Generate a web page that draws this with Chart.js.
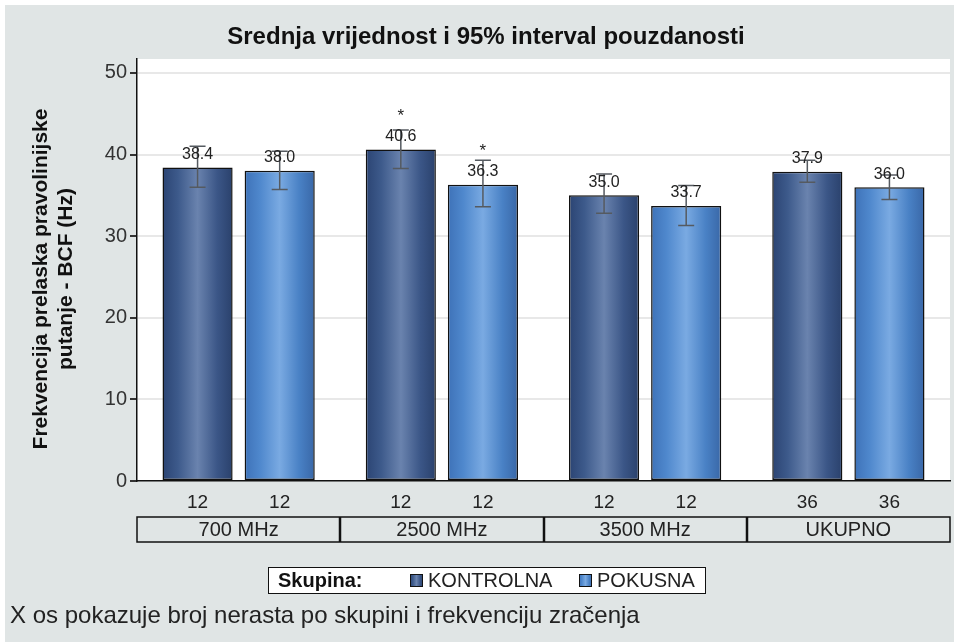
<!DOCTYPE html>
<html lang="hr">
<head>
<meta charset="UTF-8">
<title>Srednja vrijednost i 95% interval pouzdanosti</title>
<script src="https://cdn.jsdelivr.net/npm/chart.js"></script>
<style>
    body { margin: 0; background: #ffffff; }
    #wrap { width: 954px; height: 642px; }
</style>
</head>
<body>
<div id="wrap"><canvas id="bcfChart" width="954" height="642"></canvas></div>
<script>
    // data
    const groups = ['700 MHz', '2500 MHz', '3500 MHz', 'UKUPNO'];
    const seriesNames = ['KONTROLNA', 'POKUSNA'];
    const kontrolna = [38.4, 40.6, 35.0, 37.9];
    const pokusna = [38.0, 36.3, 33.7, 36.0];
    const kontrolnaLow = [36.0, 38.3, 32.8, 36.6];
    const kontrolnaHigh = [41.0, 43.0, 37.6, 39.3];
    const pokusnaLow = [35.7, 33.6, 31.3, 34.5];
    const pokusnaHigh = [40.4, 39.3, 36.2, 37.5];
    const kontrolnaN = [12, 12, 12, 36];
    const pokusnaN = [12, 12, 12, 36];
    const kontrolnaSig = [false, true, false, false];
    const pokusnaSig = [false, true, false, false];
    const yTicks = [0, 10, 20, 30, 40, 50];

    const FONT = '"Liberation Sans", Arial, Helvetica, sans-serif';
    const BG = '#e0e5e5';

    const lows = [kontrolnaLow, pokusnaLow];
    const highs = [kontrolnaHigh, pokusnaHigh];
    const counts = [kontrolnaN, pokusnaN];
    const sigs = [kontrolnaSig, pokusnaSig];

    const stops = [
        ['#2b4473', '#3d5a8b', '#6a83ae', '#3b5687', '#2a416c'],
        ['#3e72b8', '#4f88cd', '#7aaae2', '#4981c5', '#3967a7']
    ];

    function barGradient(ctx, x0, x1, colors) {
        const g = ctx.createLinearGradient(x0, 0, x1, 0);
        g.addColorStop(0, colors[0]);
        g.addColorStop(0.22, colors[1]);
        g.addColorStop(0.5, colors[2]);
        g.addColorStop(0.78, colors[3]);
        g.addColorStop(1, colors[4]);
        return g;
    }

    const decorPlugin = {
        id: 'decor',
        beforeDraw(chart) {
            const ctx = chart.ctx;
            const a = chart.chartArea;
            ctx.save();
            ctx.fillStyle = '#ffffff';
            ctx.fillRect(0, 0, chart.width, chart.height);
            ctx.fillStyle = BG;
            ctx.fillRect(5, 5, chart.width - 5, chart.height - 5);
            ctx.fillStyle = '#ffffff';
            ctx.fillRect(a.left, a.top, a.right - a.left, a.bottom - a.top);
            ctx.restore();
        },
        beforeDatasetsDraw(chart) {
            const ctx = chart.ctx;
            chart.data.datasets.forEach((ds, di) => {
                chart.getDatasetMeta(di).data.forEach(bar => {
                    // own copy so bars don't share one gradient
                    bar.options = Object.assign({}, bar.options, {
                        backgroundColor: barGradient(ctx, bar.x - bar.width / 2, bar.x + bar.width / 2, stops[di])
                    });
                });
            });
        },
        afterDatasetsDraw(chart) {
            const ctx = chart.ctx;
            const y = chart.scales.y;
            ctx.save();
            chart.data.datasets.forEach((ds, di) => {
                chart.getDatasetMeta(di).data.forEach((bar, i) => {
                    // error bar
                    const yl = y.getPixelForValue(lows[di][i]);
                    const yh = y.getPixelForValue(highs[di][i]);
                    ctx.strokeStyle = '#555a60';
                    ctx.lineWidth = 1.5;
                    ctx.beginPath();
                    ctx.moveTo(bar.x, yh); ctx.lineTo(bar.x, yl);
                    ctx.moveTo(bar.x - 8, yh); ctx.lineTo(bar.x + 8, yh);
                    ctx.moveTo(bar.x - 8, yl); ctx.lineTo(bar.x + 8, yl);
                    ctx.stroke();
                    // value label
                    ctx.fillStyle = '#222222';
                    ctx.font = '16px ' + FONT;
                    ctx.textAlign = 'center';
                    ctx.textBaseline = 'middle';
                    ctx.fillText(ds.data[i].toFixed(1), bar.x, bar.y - 13);
                    if (sigs[di][i]) {
                        ctx.font = '17px ' + FONT;
                        ctx.fillText('*', bar.x, bar.y - 33);
                    }
                });
            });
            ctx.restore();
        },
        afterDraw(chart) {
            const ctx = chart.ctx;
            const a = chart.chartArea;
            const x = chart.scales.x;
            ctx.save();
            ctx.fillStyle = '#111111';
            ctx.textAlign = 'center';
            ctx.textBaseline = 'middle';

            // title
            ctx.font = 'bold 24px ' + FONT;
            ctx.fillText('Srednja vrijednost i 95% interval pouzdanosti', 486, 37);

            // y axis title
            ctx.save();
            ctx.translate(41, 279);
            ctx.rotate(-Math.PI / 2);
            ctx.font = 'bold 21px ' + FONT;
            ctx.fillText('Frekvencija prelaska pravolinijske', 0, 0);
            ctx.fillText('putanje - BCF (Hz)', 0, 25);
            ctx.restore();

            // counts per bar
            ctx.font = '19px ' + FONT;
            ctx.fillStyle = '#222222';
            chart.data.datasets.forEach((ds, di) => {
                chart.getDatasetMeta(di).data.forEach((bar, i) => {
                    ctx.fillText(String(counts[di][i]), bar.x, a.bottom + 22);
                });
            });

            // group boxes
            const boxTop = a.bottom + 36, boxH = 25;
            const step = (a.right - a.left) / groups.length;
            ctx.strokeStyle = '#111111';
            ctx.lineWidth = 1.5;
            ctx.strokeRect(a.left, boxTop, a.right - a.left, boxH);
            ctx.lineWidth = 2.5;
            for (let i = 1; i < groups.length; i++) {
                const gx = Math.round(a.left + step * i);
                ctx.beginPath();
                ctx.moveTo(gx, boxTop); ctx.lineTo(gx, boxTop + boxH);
                ctx.stroke();
            }
            ctx.font = '20px ' + FONT;
            groups.forEach((g, i) => {
                ctx.fillText(g, x.getPixelForValue(i), boxTop + boxH / 2 + 1);
            });

            // legend
            const lx = 268, ly = 567, lw = 437, lh = 26;
            ctx.fillStyle = '#ffffff';
            ctx.fillRect(lx, ly, lw, lh);
            ctx.lineWidth = 1;
            ctx.strokeStyle = '#111111';
            ctx.strokeRect(lx + 0.5, ly + 0.5, lw, lh);
            ctx.textAlign = 'left';
            ctx.fillStyle = '#111111';
            ctx.font = 'bold 20px ' + FONT;
            ctx.fillText('Skupina:', lx + 10, ly + lh / 2 + 1);
            ctx.font = '20px ' + FONT;
            const items = [[410, 0], [579, 1]];
            items.forEach(([sx, di]) => {
                ctx.fillStyle = barGradient(ctx, sx, sx + 13, stops[di]);
                ctx.fillRect(sx, ly + 7, 13, 13);
                ctx.strokeStyle = '#111111';
                ctx.strokeRect(sx + 0.5, ly + 7.5, 12, 12);
                ctx.fillStyle = '#222222';
                ctx.fillText(seriesNames[di], sx + 18, ly + lh / 2 + 1);
            });

            // footnote
            ctx.font = '24px ' + FONT;
            ctx.fillText('X os pokazuje broj nerasta po skupini i frekvenciju zračenja', 10, 616);
            ctx.restore();
        }
    };

    new Chart(document.getElementById('bcfChart'), {
        type: 'bar',
        data: {
            labels: groups,
            datasets: [
                { label: seriesNames[0], data: kontrolna, backgroundColor: () => stops[0][2], borderColor: '#111111' },
                { label: seriesNames[1], data: pokusna, backgroundColor: () => stops[1][2], borderColor: '#111111' }
            ]
        },
        options: {
            responsive: false,
            animation: false,
            devicePixelRatio: 1,
            layout: { padding: { left: 0, top: 59, right: 4, bottom: 0 } },
            datasets: {
                bar: {
                    borderWidth: 1.5,
                    borderSkipped: false,
                    categoryPercentage: 0.808,
                    barPercentage: 0.854
                }
            },
            plugins: {
                colors: { enabled: false },
                legend: { display: false },
                title: { display: false },
                tooltip: { enabled: false }
            },
            scales: {
                x: {
                    grid: { display: false },
                    ticks: { display: false },
                    border: { color: '#111111', width: 1.5 },
                    afterFit: s => { s.height = 161; }
                },
                y: {
                    min: 0,
                    max: 51.7,
                    afterBuildTicks: s => { s.ticks = yTicks.map(v => ({ value: v })); },
                    afterFit: s => { s.width = 137; },
                    ticks: { color: '#333333', padding: 3, font: { family: FONT, size: 20 } },
                    grid: {
                        color: c => (c.tick && c.tick.value === 0) ? 'rgba(0,0,0,0)' : '#e8e8e8',
                        lineWidth: 2,
                        tickColor: '#333333',
                        tickLength: 7
                    },
                    border: { color: '#111111', width: 1.5 }
                }
            }
        },
        plugins: [decorPlugin]
    });
</script>
</body>
</html>
